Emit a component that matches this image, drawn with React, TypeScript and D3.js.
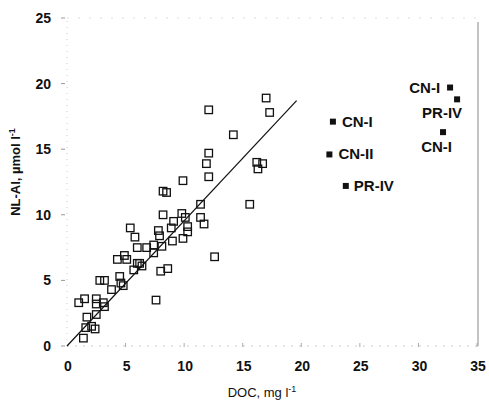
import { useEffect, useRef } from 'react';
import * as d3 from 'd3';

// open squares: DOC (mg/l), NL-Al (µmol/l)
const docValues = [
  17.0, 17.3, 12.1, 14.2, 16.2, 16.7, 16.3, 15.6, 12.1, 11.9, 12.1, 9.9, 8.2, 8.5, 11.4, 8.2,
  9.8, 9.1, 10.1, 11.4, 11.7, 10.3, 10.3, 9.9, 8.9, 9.0, 7.8, 7.9, 5.4, 5.8, 6.0, 6.8,
  7.4, 7.4, 8.1, 4.3, 4.9, 5.1, 5.7, 6.0, 6.2, 6.4, 8.0, 8.6, 12.6, 7.6, 2.8, 3.2,
  4.5, 4.6, 4.8, 3.8, 2.5, 1.0, 1.5, 2.5, 3.1, 3.2, 1.7, 2.5, 1.6, 2.1, 2.4, 1.4,
];
const nlAlValues = [
  18.9, 17.8, 18.0, 16.1, 14.0, 13.9, 13.5, 10.8, 14.7, 13.9, 12.9, 12.6, 11.8, 11.7, 10.8, 10.0,
  10.1, 9.5, 9.8, 9.8, 9.3, 9.1, 8.7, 8.2, 9.0, 8.0, 8.8, 8.4, 9.0, 8.3, 7.5, 7.5,
  7.7, 7.1, 7.6, 6.6, 6.9, 6.6, 5.8, 6.3, 6.3, 6.1, 5.7, 5.9, 6.8, 3.5, 5.0, 5.0,
  5.3, 4.8, 4.6, 4.3, 3.6, 3.3, 3.6, 3.2, 3.3, 3.0, 2.2, 2.4, 1.4, 1.5, 1.3, 0.6,
];

// filled squares with site labels
const siteNames = ['CN-I', 'CN-II', 'PR-IV', 'CN-I', 'PR-IV', 'CN-I'];
const siteDoc = [22.7, 22.4, 23.8, 32.7, 33.3, 32.1];
const siteNlAl = [17.1, 14.6, 12.2, 19.7, 18.8, 16.3];
// label placement relative to the square: [dx, dy, anchor]
const siteLabelPos: [number, number, string][] = [
  [9, 5, 'start'],
  [9, 5, 'start'],
  [8, 5, 'start'],
  [-10, 5, 'end'],
  [5, 19, 'end'],
  [9, 20, 'end'],
];

// regression line through origin
const fitDoc = [0, 19.6];
const fitNlAl = [0, 18.7];

const xTicks = [0, 5, 10, 15, 20, 25, 30, 35];
const yTicks = [0, 5, 10, 15, 20, 25];

export default function App() {
  const svgRef = useRef<SVGSVGElement>(null);

  useEffect(() => {
    if (!svgRef.current) return;
    const svg = d3.select(svgRef.current);
    svg.selectAll('*').remove();

    const font = 'Liberation Sans, Arial, sans-serif';
    const x = d3.scaleLinear().domain([0, 35]).range([67, 477]);
    const y = d3.scaleLinear().domain([0, 25]).range([346, 18]);

    // faint frame (scanned look)
    svg.append('line')
      .attr('x1', x(0)).attr('x2', x(0)).attr('y1', y(0)).attr('y2', y(25))
      .attr('stroke', '#ccc').attr('stroke-width', 1).attr('stroke-dasharray', '1 5');
    svg.append('line')
      .attr('x1', x(0)).attr('x2', x(35)).attr('y1', y(0)).attr('y2', y(0))
      .attr('stroke', '#ccc').attr('stroke-width', 1).attr('stroke-dasharray', '2 6');
    svg.append('line')
      .attr('x1', x(0)).attr('x2', x(35)).attr('y1', y(25)).attr('y2', y(25))
      .attr('stroke', '#ddd').attr('stroke-width', 1).attr('stroke-dasharray', '2 9');
    svg.append('line')
      .attr('x1', x(35) + 1).attr('x2', x(35) + 1).attr('y1', y(25) + 4).attr('y2', y(0))
      .attr('stroke', '#888').attr('stroke-width', 1);

    // y ticks + labels
    const yg = svg.append('g');
    yg.selectAll('line').data(yTicks).join('line')
      .attr('x1', x(0) - 6).attr('x2', x(0) - 2)
      .attr('y1', (d) => y(d)).attr('y2', (d) => y(d))
      .attr('stroke', '#999').attr('stroke-width', 1);
    yg.selectAll('text').data(yTicks).join('text')
      .attr('x', 51).attr('y', (d) => y(d)).attr('dy', '0.35em')
      .attr('text-anchor', 'end').attr('font-family', font)
      .attr('font-size', 14).attr('font-weight', 'bold').attr('fill', '#111')
      .text((d) => d);

    // x ticks + labels
    const xg = svg.append('g');
    xg.selectAll('line').data(xTicks.slice(1)).join('line')
      .attr('x1', (d) => x(d)).attr('x2', (d) => x(d))
      .attr('y1', y(0) - 3).attr('y2', y(0) + 1)
      .attr('stroke', '#aaa').attr('stroke-width', 1);
    xg.selectAll('text').data(xTicks).join('text')
      .attr('x', (d) => x(d) + 1).attr('y', 371)
      .attr('text-anchor', 'middle').attr('font-family', font)
      .attr('font-size', 14).attr('font-weight', 'bold').attr('fill', '#111')
      .text((d) => d);

    // axis titles
    const xt = svg.append('text')
      .attr('x', 262).attr('y', 397).attr('text-anchor', 'middle')
      .attr('font-family', font).attr('font-size', 13).attr('fill', '#111');
    xt.append('tspan').text('DOC, mg l');
    xt.append('tspan').attr('dy', -5).attr('font-size', 9).text('-1');

    const yt = svg.append('text')
      .attr('transform', 'translate(20,172) rotate(-90)').attr('text-anchor', 'middle')
      .attr('font-family', font).attr('font-size', 13).attr('font-weight', 'bold').attr('fill', '#111');
    yt.append('tspan').text('NL-Al, µmol l');
    yt.append('tspan').attr('dy', -5).attr('font-size', 9).text('-1');

    // regression line
    svg.append('line')
      .attr('x1', x(fitDoc[0])).attr('y1', y(fitNlAl[0]))
      .attr('x2', x(fitDoc[1])).attr('y2', y(fitNlAl[1]))
      .attr('stroke', '#111').attr('stroke-width', 1.2);

    // open squares
    const pts = docValues.map((d, i) => [d, nlAlValues[i]] as [number, number]);
    const s = 7.5;
    svg.append('g').selectAll('rect').data(pts).join('rect')
      .attr('x', (d) => x(d[0]) - s / 2).attr('y', (d) => y(d[1]) - s / 2)
      .attr('width', s).attr('height', s)
      .attr('fill', 'none').attr('stroke', '#111').attr('stroke-width', 1.3);

    // filled squares + labels
    const sites = siteNames.map((n, i) => ({ n, d: siteDoc[i], v: siteNlAl[i], p: siteLabelPos[i] }));
    const fs = 6;
    svg.append('g').selectAll('rect').data(sites).join('rect')
      .attr('x', (d) => x(d.d) - fs / 2).attr('y', (d) => y(d.v) - fs / 2)
      .attr('width', fs).attr('height', fs).attr('fill', '#111');
    svg.append('g').selectAll('text').data(sites).join('text')
      .attr('x', (d) => x(d.d) + d.p[0]).attr('y', (d) => y(d.v) + d.p[1])
      .attr('text-anchor', (d) => d.p[2])
      .attr('font-family', font).attr('font-size', 15).attr('font-weight', 'bold').attr('fill', '#111')
      .text((d) => d.n);
  }, []);

  return (
    <svg
      ref={svgRef}
      width={489}
      height={412}
      style={{ position: 'absolute', left: 0, top: 0, background: '#fff' }}
    />
  );
}
